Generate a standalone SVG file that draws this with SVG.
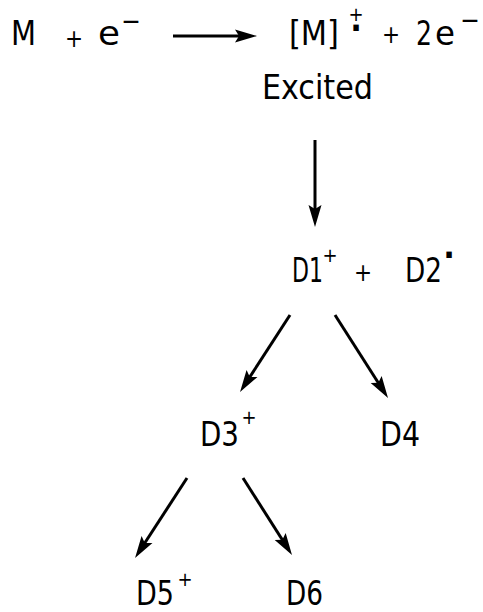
<svg xmlns="http://www.w3.org/2000/svg" width="483" height="612" viewBox="0 0 483 612">
<style>
text{font-family:"DejaVu Sans Condensed","DejaVu Sans",sans-serif;font-size:33px;fill:#000;font-stretch:condensed}
.sm{font-size:24px}
.sup{font-size:20px}
.mn{font-size:26px}
.dot{font-size:34px;font-weight:bold}
.conn line{stroke:#000;stroke-width:3;marker-end:url(#ah)}
</style>
<defs>
<marker id="ah" markerUnits="userSpaceOnUse" markerWidth="26" markerHeight="16" refX="14" refY="8" orient="auto" overflow="visible">
<path d="M0,1.5 L22,8 L0,14.5 L4,8 z" fill="#000"/>
</marker>
</defs>
<rect width="483" height="612" fill="#fff"/>
<g class="conn" id="connectors">
<line x1="173" y1="36" x2="249" y2="36"/>
<line x1="315" y1="140" x2="315" y2="219"/>
<line x1="290" y1="315" x2="244.4" y2="385.3"/>
<line x1="335" y1="315" x2="383.7" y2="391.3"/>
<line x1="187" y1="478" x2="139.4" y2="551.3"/>
<line x1="243" y1="478" x2="287.7" y2="548.3"/>
</g>
<g id="reactants">
<text x="11" y="45"><tspan textLength="25" lengthAdjust="spacingAndGlyphs">M</tspan><tspan class="sm" x="74" y="47" text-anchor="middle">+</tspan><tspan x="98" y="45" textLength="22" lengthAdjust="spacingAndGlyphs">e</tspan><tspan class="mn" x="131" y="30" text-anchor="middle">−</tspan></text>
</g>
<g id="molecular-ion">
<text x="289" y="45"><tspan textLength="50" lengthAdjust="spacingAndGlyphs">[M]</tspan><tspan class="sup" x="356" y="21" text-anchor="middle">+</tspan><tspan class="dot" x="356" y="40" text-anchor="middle">·</tspan><tspan class="sm" x="391" y="43" text-anchor="middle">+</tspan><tspan x="416" y="45" textLength="16" lengthAdjust="spacingAndGlyphs">2</tspan><tspan x="435" y="45" textLength="20" lengthAdjust="spacingAndGlyphs">e</tspan><tspan class="mn" x="470" y="29" text-anchor="middle">−</tspan></text>
<text x="262" y="99" textLength="111" lengthAdjust="spacingAndGlyphs">Excited</text>
</g>
<g id="D1-D2">
<text x="292" y="282"><tspan textLength="31" lengthAdjust="spacingAndGlyphs">D1</tspan><tspan class="sup" x="330" y="262" text-anchor="middle">+</tspan><tspan class="sm" x="363" y="281" text-anchor="middle">+</tspan><tspan x="405" y="282" textLength="37" lengthAdjust="spacingAndGlyphs">D2</tspan><tspan class="dot" x="449" y="267" text-anchor="middle">·</tspan></text>
</g>
<g id="D3">
<text x="200" y="446"><tspan textLength="39" lengthAdjust="spacingAndGlyphs">D3</tspan><tspan class="sup" x="249" y="424" text-anchor="middle">+</tspan></text>
</g>
<g id="D4">
<text x="380" y="446" textLength="40" lengthAdjust="spacingAndGlyphs">D4</text>
</g>
<g id="D5">
<text x="136" y="605"><tspan textLength="38" lengthAdjust="spacingAndGlyphs">D5</tspan><tspan class="sup" x="185" y="586" text-anchor="middle">+</tspan></text>
</g>
<g id="D6">
<text x="286" y="605" textLength="37" lengthAdjust="spacingAndGlyphs">D6</text>
</g>
</svg>
